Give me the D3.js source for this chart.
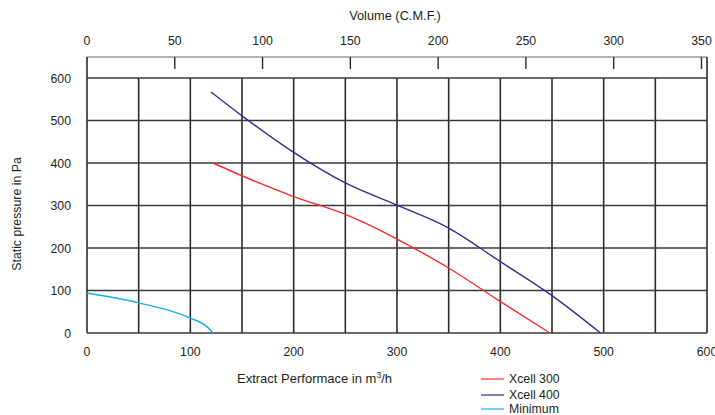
<!DOCTYPE html>
<html>
<head>
<meta charset="utf-8">
<script src="https://cdn.jsdelivr.net/npm/d3@7"></script>
<style>
  body { margin: 0; background: #fff; }
  text { font-family: "Liberation Sans", Arial, sans-serif; fill: #231f20; }
</style>
</head>
<body>
<svg id="chart"></svg>
<script>
// curve data: [m3/h, Pa]
const xcell300 = [[122, 400], [150, 370], [200, 321], [250, 279], [275, 252], [300, 221], [350, 153], [400, 74], [448, 0]];
const xcell400 = [[120, 567], [150, 511], [200, 425], [250, 353], [300, 301], [350, 247], [400, 168], [450, 88], [497, 0]];
const minimum = [[0, 94], [50, 71], [100, 35], [116, 15], [122, 0]];

const seriesNames = ["Xcell 300", "Xcell 400", "Minimum"];
const seriesColors = ["#ff2a2a", "#2e3192", "#1ab0ef"];

const flowTicks = [0, 100, 200, 300, 400, 500, 600];
const pressureTicks = [0, 100, 200, 300, 400, 500, 600];
const cfmTicks = [0, 50, 100, 150, 200, 250, 300, 350];
const CFM_TO_M3H = 1.699;

const width = 715, height = 415;
const margin = {top: 78, right: 8, bottom: 82, left: 87};

const svg = d3.select('#chart')
    .attr('width', width)
    .attr('height', height);

const x = d3.scaleLinear().domain([0, 600]).range([margin.left, width - margin.right]);
const y = d3.scaleLinear().domain([0, 600]).range([height - margin.bottom, margin.top]);
const xTop = d3.scaleLinear().domain([0, 600 / CFM_TO_M3H]).range(x.range());

const grid = svg.append('g');

// vertical grid every 50 m3/h
grid.selectAll('line.v')
    .data(d3.range(0, 601, 50))
    .join('line')
    .attr('class', 'v')
    .attr('x1', d => x(d)).attr('x2', d => x(d))
    .attr('y1', y(600)).attr('y2', y(0))
    .attr('stroke', '#2b2b2b').attr('stroke-width', 1.6);

// horizontal grid every 100 Pa
grid.selectAll('line.h')
    .data(pressureTicks)
    .join('line')
    .attr('class', 'h')
    .attr('x1', x(0)).attr('x2', x(600))
    .attr('y1', d => y(d)).attr('y2', d => y(d))
    .attr('stroke', '#3a3a3a').attr('stroke-width', 1.6);

// top CFM band
const topY = margin.top - 21;
grid.append('line')
    .attr('x1', x(0)).attr('x2', x(600))
    .attr('y1', topY).attr('y2', topY)
    .attr('stroke', '#666').attr('stroke-width', 1.2);
grid.append('line')
    .attr('x1', x(0)).attr('x2', x(0))
    .attr('y1', topY).attr('y2', y(600))
    .attr('stroke', '#2b2b2b').attr('stroke-width', 1.6);
grid.append('line')
    .attr('x1', x(600)).attr('x2', x(600))
    .attr('y1', topY).attr('y2', y(600))
    .attr('stroke', '#2b2b2b').attr('stroke-width', 1.6);

grid.selectAll('line.ct')
    .data(cfmTicks.slice(1))
    .join('line')
    .attr('class', 'ct')
    .attr('x1', d => xTop(d)).attr('x2', d => xTop(d))
    .attr('y1', topY).attr('y2', topY + 12)
    .attr('stroke', '#2b2b2b').attr('stroke-width', 1.4);

svg.selectAll('text.ctl')
    .data(cfmTicks)
    .join('text')
    .attr('class', 'ctl')
    .attr('x', d => xTop(d))
    .attr('y', 45)
    .attr('text-anchor', 'middle')
    .attr('font-size', 12.3)
    .text(d => d);

svg.append('text')
    .attr('x', 395).attr('y', 20)
    .attr('text-anchor', 'middle')
    .attr('font-size', 12.8)
    .text('Volume (C.M.F.)');

// bottom tick labels
svg.selectAll('text.xl')
    .data(flowTicks)
    .join('text')
    .attr('class', 'xl')
    .attr('x', d => x(d))
    .attr('y', 356)
    .attr('text-anchor', 'middle')
    .attr('font-size', 12.3)
    .text(d => d);

// left tick labels
svg.selectAll('text.yl')
    .data(pressureTicks)
    .join('text')
    .attr('class', 'yl')
    .attr('x', 71)
    .attr('y', d => y(d) + 4.5)
    .attr('text-anchor', 'end')
    .attr('font-size', 12.3)
    .text(d => d);

svg.append('text')
    .attr('transform', 'translate(21,214) rotate(-90)')
    .attr('text-anchor', 'middle')
    .attr('font-size', 12.3)
    .text('Static pressure in Pa');

const xt = svg.append('text')
    .attr('x', 237).attr('y', 383)
    .attr('font-size', 13)
    .text('Extract Performace in m');
xt.append('tspan').attr('font-size', 8.5).attr('dy', -5).text('3');
xt.append('tspan').attr('dy', 5).text('/h');

// curves
const line = d3.line()
    .x(d => x(d[0]))
    .y(d => y(d[1]))
    .curve(d3.curveMonotoneX);

[xcell300, xcell400, minimum].forEach((s, i) => {
    svg.append('path')
        .datum(s)
        .attr('d', line)
        .attr('fill', 'none')
        .attr('stroke', seriesColors[i])
        .attr('stroke-width', 1.4);
});

// legend
const legend = svg.append('g');
const legendY = [379, 395, 409];
seriesNames.forEach((name, i) => {
    legend.append('line')
        .attr('x1', 481).attr('x2', 504)
        .attr('y1', legendY[i]).attr('y2', legendY[i])
        .attr('stroke', seriesColors[i]).attr('stroke-width', 1.2);
    legend.append('text')
        .attr('x', 509).attr('y', legendY[i] + 4.3)
        .attr('font-size', 12.3)
        .text(name);
});
</script>
</body>
</html>
